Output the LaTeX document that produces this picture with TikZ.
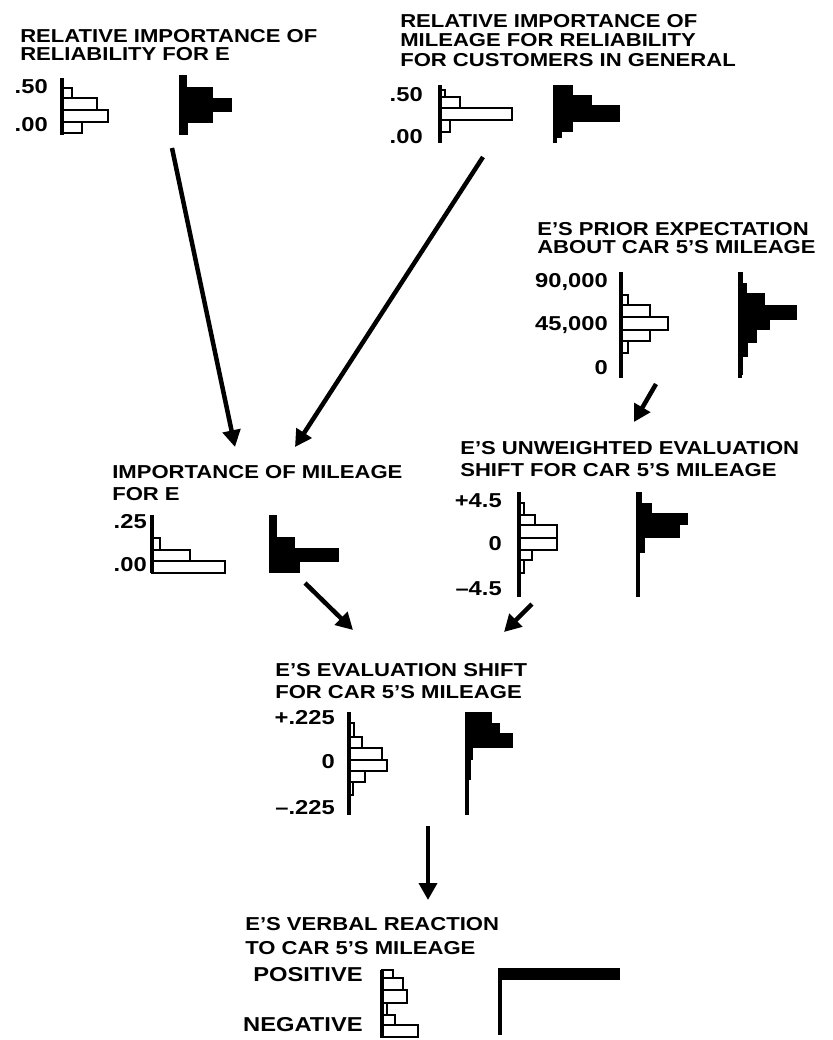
\documentclass[tikz,border=0pt]{standalone}
\usepackage{fontspec}
\setmainfont{Liberation Sans}[FakeStretch=1.18]
\usetikzlibrary{arrows.meta, positioning}

\begin{document}
\begin{tikzpicture}[x=0.025cm, y=-0.025cm,
    ttl/.style={anchor=north west, align=left, inner sep=0pt,
                font=\bfseries\fontsize{13.3}{#1}\selectfont},
    ttl/.default=13.5pt,
    val/.style={anchor=east, inner sep=0pt, font=\bfseries\fontsize{14.3}{15}\selectfont},
    haxis/.style={line width=2.2pt},
    hbox/.style={draw, line width=1.8pt, fill=white},
    arr/.style={-{Triangle[length=0.42cm, width=0.44cm]}, line width=3.2pt}
  ]
  \useasboundingbox (0,0) rectangle (833,1040);

  % titles
  \node[ttl=12.6pt] (relE)   at (20,29)   {RELATIVE IMPORTANCE OF\\RELIABILITY FOR E};
  \node[ttl=13.8pt] (relGen) at (400,14)  {RELATIVE IMPORTANCE OF\\MILEAGE FOR RELIABILITY\\FOR CUSTOMERS IN GENERAL};
  \node[ttl=13.2pt] (prior)  at (537,222) {E'S PRIOR EXPECTATION\\ABOUT CAR 5'S MILEAGE};
  \node[ttl=15.6pt] (impE)   at (112,465) {IMPORTANCE OF MILEAGE\\FOR E};
  \node[ttl=15.6pt] (unw)    at (460,441) {E'S UNWEIGHTED EVALUATION\\SHIFT FOR CAR 5'S MILEAGE};
  \node[ttl=15.6pt] (shift)  at (275,663) {E'S EVALUATION SHIFT\\FOR CAR 5'S MILEAGE};
  \node[ttl=17pt]   (verbal) at (245,917) {E'S VERBAL REACTION\\TO CAR 5'S MILEAGE};

  % scale values
  \node[val] (relE-hi)    at (48,87)    {.50};
  \node[val] (relE-lo)    at (48,125)   {.00};
  \node[val] (relGen-hi)  at (423,95)   {.50};
  \node[val] (relGen-lo)  at (423,137)  {.00};
  \node[val] (prior-hi)   at (608,282)  {90,000};
  \node[val] (prior-mid)  at (608,325)  {45,000};
  \node[val] (prior-lo)   at (608,368)  {0};
  \node[val] (impE-hi)    at (147,522)  {.25};
  \node[val] (impE-lo)    at (147,565)  {.00};
  \node[val] (unw-hi)     at (502,501)  {+4.5};
  \node[val] (unw-mid)    at (502,544)  {0};
  \node[val] (unw-lo)     at (502,589)  {--4.5};
  \node[val] (shift-hi)   at (335,718)  {+.225};
  \node[val] (shift-mid)  at (335,762)  {0};
  \node[val] (shift-lo)   at (335,808)  {--.225};
  \node[val] (verbal-hi)  at (363,975)  {POSITIVE};
  \node[val] (verbal-lo)  at (363,1025) {NEGATIVE};

  % outline histograms
  \foreach \a/\b/\e in {88/98/72, 98/110/97, 110/122/108, 122/133/82}
    \draw[hbox] (62,\a) rectangle (\e,\b);
  \draw[haxis] (62,78) -- (62,135);
  \foreach \a/\b/\e in {90/97/445, 97/108/460, 108/120/512, 120/132/450}
    \draw[hbox] (440,\a) rectangle (\e,\b);
  \draw[haxis] (440,85) -- (440,143);
  \foreach \a/\b/\e in {295/305/628, 305/317/650, 317/330/668, 330/341/650, 341/353/628}
    \draw[hbox] (621,\a) rectangle (\e,\b);
  \draw[haxis] (621,272) -- (621,378);
  \foreach \a/\b/\e in {538/550/160, 550/561/190, 561/573/225}
    \draw[hbox] (152,\a) rectangle (\e,\b);
  \draw[haxis] (152,515) -- (152,573);
  \foreach \a/\b/\e in {503/515/524, 515/525/535, 525/538/557, 538/550/557, 550/560/532, 560/573/524}
    \draw[hbox] (519,\a) rectangle (\e,\b);
  \draw[haxis] (519,492) -- (519,597);
  \foreach \a/\b/\e in {723/737/354, 737/748/362, 748/760/382, 760/771/387, 771/782/365, 782/795/353}
    \draw[hbox] (349,\a) rectangle (\e,\b);
  \draw[haxis] (349,712) -- (349,815);
  \foreach \a/\b/\e in {970/978/393, 978/990/403, 990/1003/407, 1003/1015/387, 1015/1025/395, 1025/1037/418}
    \draw[hbox] (382,\a) rectangle (\e,\b);
  \draw[haxis] (382,970) -- (382,1038);

  % filled histograms
  \foreach \a/\b/\e in {75/87/187, 87/98/213, 98/112/232, 112/123/213, 123/135/188}
    \fill (179,\a) rectangle (\e,\b);
  \foreach \a/\b/\e in {85/95/573, 95/105/592, 105/122/620, 122/132/573, 132/138/562}
    \fill (554,\a) rectangle (\e,\b);
  \draw[haxis] (555,85) -- (555,143);
  \foreach \a/\b/\e in {272/283/743, 283/293/747, 293/305/765, 305/320/797, 320/330/770, 330/343/757, 343/357/748, 357/375/743}
    \fill (739,\a) rectangle (\e,\b);
  \draw[haxis] (740,272) -- (740,378);
  \foreach \a/\b/\e in {515/537/277, 537/548/295, 548/562/339, 562/573/300}
    \fill (269,\a) rectangle (\e,\b);
  \foreach \a/\b/\e in {492/503/642, 503/513/652, 513/525/688, 525/538/680, 538/553/645, 553/597/640}
    \fill (637,\a) rectangle (\e,\b);
  \draw[haxis] (638,492) -- (638,597);
  \foreach \a/\b/\e in {712/723/492, 723/733/500, 733/748/513, 748/760/473, 760/780/471, 780/815/468}
    \fill (466,\a) rectangle (\e,\b);
  \draw[haxis] (467,712) -- (467,815);
  \fill (499,968) rectangle (620,980);
  \draw[haxis] (500,968) -- (500,1035);

  % arrows
  \coordinate (relE-out)   at (172,148);
  \coordinate (relGen-out) at (483,157);
  \coordinate (impE-in1)   at (235,447);
  \coordinate (impE-in2)   at (295,447);
  \coordinate (prior-out)  at (656,384);
  \coordinate (unw-in)     at (634,422);
  \coordinate (impE-out)   at (305,583);
  \coordinate (shift-in1)  at (353,630);
  \coordinate (unw-out)    at (532,604);
  \coordinate (shift-in2)  at (504,632);
  \coordinate (shift-out)  at (428,826);
  \coordinate (verbal-in)  at (428,900);

  \draw[arr] (relE-out)   -- (impE-in1);
  \draw[arr] (relGen-out) -- (impE-in2);
  \draw[arr] (prior-out)  -- (unw-in);
  \draw[arr] (impE-out)   -- (shift-in1);
  \draw[arr] (unw-out)    -- (shift-in2);
  \draw[arr] (shift-out)  -- (verbal-in);
\end{tikzpicture}
\end{document}
